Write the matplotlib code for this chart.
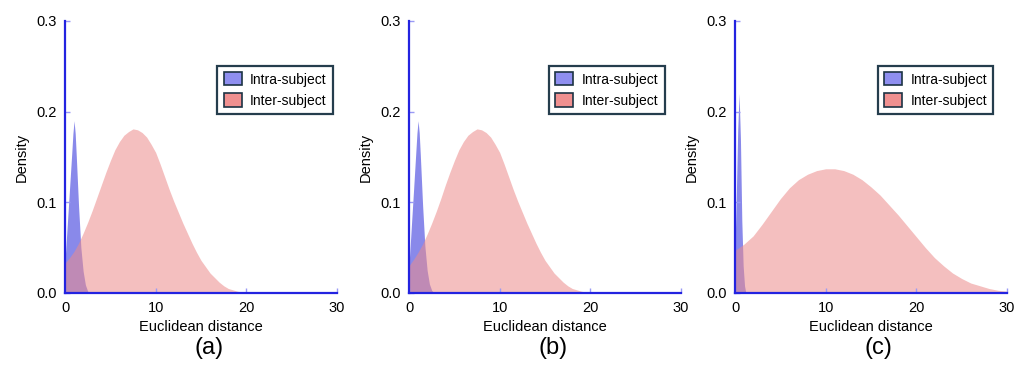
import matplotlib
matplotlib.use("Agg")
import matplotlib.pyplot as plt
from matplotlib.patches import Patch

plt.rcParams['font.family'] = ['Liberation Sans', 'DejaVu Sans']

# ---- data ----
intra_a_x = [0, 0.25, 0.5, 0.75, 0.875, 1.0, 1.125, 1.25, 1.5, 1.75, 2.0, 2.25, 2.5, 2.75]
intra_a_y = [0.035, 0.075, 0.115, 0.155, 0.176, 0.19, 0.176, 0.15, 0.095, 0.05, 0.024, 0.009, 0.002, 0.0]
inter_a_x = [0, 0.5, 1, 1.5, 2, 2.5, 3, 3.5, 4, 4.5, 5, 5.5, 6, 6.5, 7, 7.5, 8, 8.5, 9, 9.5,
             10, 10.5, 11, 11.5, 12, 12.5, 13, 13.5, 14, 14.5, 15, 15.5, 16, 16.5, 17, 17.5,
             18, 18.5, 19, 19.5, 20]
inter_a_y = [0.033, 0.039, 0.046, 0.055, 0.066, 0.078, 0.091, 0.105, 0.119, 0.133, 0.146,
             0.158, 0.167, 0.174, 0.178, 0.181, 0.180, 0.177, 0.172, 0.164, 0.155, 0.142,
             0.128, 0.114, 0.101, 0.089, 0.077, 0.066, 0.055, 0.045, 0.036, 0.029, 0.022,
             0.017, 0.012, 0.008, 0.005, 0.0035, 0.002, 0.001, 0.0]

intra_b_x = [0, 0.25, 0.5, 0.75, 0.875, 1.0, 1.125, 1.25, 1.5, 1.75, 2.0, 2.25, 2.5, 2.75]
intra_b_y = [0.03, 0.072, 0.113, 0.155, 0.176, 0.19, 0.177, 0.152, 0.097, 0.052, 0.025, 0.01, 0.003, 0.0]
inter_b_x = [0, 0.5, 1, 1.5, 2, 2.5, 3, 3.5, 4, 4.5, 5, 5.5, 6, 6.5, 7, 7.5, 8, 8.5, 9, 9.5,
             10, 10.5, 11, 11.5, 12, 12.5, 13, 13.5, 14, 14.5, 15, 15.5, 16, 16.5, 17, 17.5,
             18, 18.5, 19, 19.5, 20]
inter_b_y = [0.030, 0.037, 0.045, 0.054, 0.065, 0.077, 0.090, 0.104, 0.119, 0.133, 0.146,
             0.158, 0.167, 0.174, 0.178, 0.181, 0.180, 0.177, 0.172, 0.164, 0.155, 0.142,
             0.128, 0.114, 0.101, 0.089, 0.077, 0.066, 0.055, 0.045, 0.036, 0.029, 0.022,
             0.017, 0.012, 0.008, 0.005, 0.0035, 0.002, 0.001, 0.0]

intra_c_x = [0, 0.15, 0.3, 0.45, 0.6, 0.75, 0.9, 1.05, 1.2]
intra_c_y = [0.05, 0.11, 0.18, 0.22, 0.17, 0.08, 0.03, 0.008, 0.0]
inter_c_x = list(range(0, 31))
inter_c_y = [0.047, 0.054, 0.063, 0.076, 0.090, 0.104, 0.116, 0.125, 0.131, 0.135, 0.137,
             0.137, 0.135, 0.131, 0.125, 0.117, 0.108, 0.097, 0.086, 0.074, 0.062, 0.050,
             0.039, 0.030, 0.022, 0.016, 0.011, 0.008, 0.005, 0.003, 0.002]

panel_labels = ["(a)", "(b)", "(c)"]
legend_labels = ["Intra-subject", "Inter-subject"]
x_ticks = [0, 10, 20, 30]
y_ticks = [0.0, 0.1, 0.2, 0.3]

panels = [
    (intra_a_x, intra_a_y, inter_a_x, inter_a_y),
    (intra_b_x, intra_b_y, inter_b_x, inter_b_y),
    (intra_c_x, intra_c_y, inter_c_x, inter_c_y),
]

W, H = 1014, 365
fig = plt.figure(figsize=(W / 100, H / 100), dpi=100)

axes_left_px = [65, 409, 735]
legend_anchor = [0.985, 0.94, 0.949]
label_x_px = [209, 553, 878]
ax_w_px, ax_h_px = 272, 272
ax_bottom_px = 293

blue_fill = "#3b3bdc"
pink_fill = "#ec8b8b"
spine_col = "#2323e0"
tick_col = "#9a9af5"

for i, (bx, by, px, py) in enumerate(panels):
    ax = fig.add_axes([axes_left_px[i] / W, (H - ax_bottom_px) / H, ax_w_px / W, ax_h_px / H])
    ax.fill_between(bx, by, 0, color=blue_fill, alpha=0.6, linewidth=0)
    ax.fill_between(px, py, 0, color=pink_fill, alpha=0.55, linewidth=0)
    ax.set_xlim(0, 30)
    ax.set_ylim(0, 0.3)
    ax.set_xticks(x_ticks)
    ax.set_yticks(y_ticks)
    ax.set_yticklabels(["%.1f" % v for v in y_ticks])
    for s in ["top", "right"]:
        ax.spines[s].set_visible(False)
    for s in ["left", "bottom"]:
        ax.spines[s].set_color(spine_col)
        ax.spines[s].set_linewidth(1.6)
    ax.tick_params(direction="in", length=3.5, width=1, color=tick_col,
                   labelsize=10.5, pad=6)
    ax.set_xlabel("Euclidean distance", fontsize=10.5, labelpad=3.5)
    ax.set_ylabel("Density", fontsize=10.5, labelpad=5)
    handles = [Patch(facecolor="#8f8ff0", edgecolor="#1c3344", linewidth=1.2),
               Patch(facecolor="#f09090", edgecolor="#1c3344", linewidth=1.2)]
    leg = ax.legend(handles, legend_labels, loc="upper right",
                    bbox_to_anchor=(legend_anchor[i], 0.835), fontsize=10,
                    fancybox=False, framealpha=1, edgecolor="#253d4d",
                    handlelength=1.3, handleheight=1.1, handletextpad=0.6,
                    borderpad=0.45, labelspacing=0.5, borderaxespad=0)
    leg.get_frame().set_linewidth(1.6)
    fig.text(label_x_px[i] / W, 1 - 348 / H, panel_labels[i], fontsize=17,
             ha="center", va="center")

fig.savefig("out.png", dpi=100)
